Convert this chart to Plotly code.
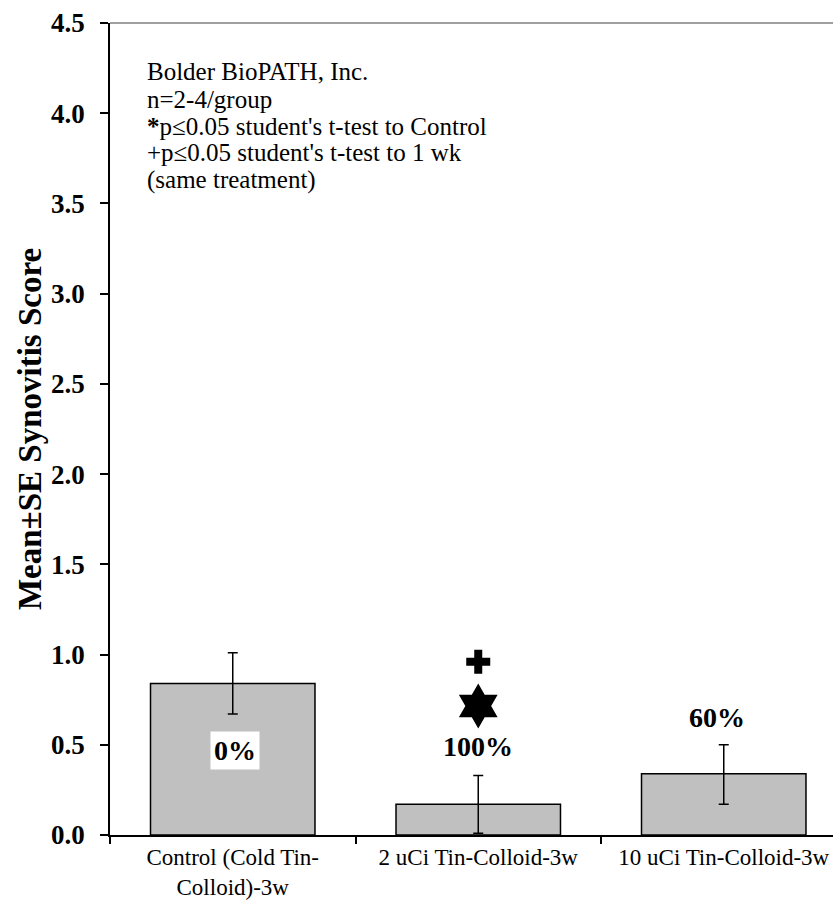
import plotly.graph_objects as go

# Synovitis scores per treatment group
categories = ["Control (Cold Tin-<br>Colloid)-3w", "2 uCi Tin-Colloid-3w", "10 uCi Tin-Colloid-3w"]
means = [0.84, 0.17, 0.34]
se_plus = [0.17, 0.16, 0.16]
se_minus = [0.17, 0.16, 0.17]
pct_labels = ["0%", "100%", "60%"]
pct_y = [0.47, 0.49, 0.65]
pct_xshift = [2, 0, -7]
y_ticks = [0.0, 0.5, 1.0, 1.5, 2.0, 2.5, 3.0, 3.5, 4.0, 4.5]

# significance markers over the 2 uCi group
sig_cat = [categories[1], categories[1]]
sig_y = [0.96, 0.715]
sig_symbols = ["cross", "hexagram"]

info_lines = [
    "Bolder BioPATH, Inc.",
    "n=2-4/group",
    "<b>*</b>p≤0.05 student's t-test to Control",
    "+p≤0.05 student's t-test to 1 wk",
    "(same treatment)",
]

serif = "Liberation Serif"
W, H = 833, 901
M_L, M_R, M_T, M_B = 110, 0, 23, 66
plot_h = H - M_T - M_B

fig = go.Figure()
fig.add_trace(go.Bar(
    x=categories, y=means, width=0.67,
    marker=dict(color="#c0c0c0", line=dict(color="#000000", width=1.5)),
    error_y=dict(type="data", array=se_plus, arrayminus=se_minus, symmetric=False,
                 color="#000000", thickness=1.5, width=5),
    showlegend=False,
))
fig.add_trace(go.Scatter(
    x=sig_cat, y=sig_y, mode="markers",
    marker=dict(symbol=sig_symbols, size=[20, 34], color="#000000", opacity=1,
                line=dict(width=0, color="#000000")),
    showlegend=False,
))

for i, (cat, lab, yy, dx) in enumerate(zip(categories, pct_labels, pct_y, pct_xshift)):
    fig.add_annotation(
        x=cat, y=yy, text=f"<b>{lab}</b>", showarrow=False, xshift=dx,
        font=dict(family=serif, size=28, color="#000000"),
        bgcolor="#ffffff" if i == 0 else "rgba(0,0,0,0)",
        borderpad=3,
    )

# info block, one line per annotation for tight line spacing
line_step = 27
first_line = 72
for k, line in enumerate(info_lines):
    ypix = first_line + k * line_step
    fig.add_annotation(
        xref="paper", yref="paper", x=0.048, y=1 - (ypix - M_T) / plot_h,
        xanchor="left", yanchor="middle",
        text=line, showarrow=False, align="left",
        font=dict(family=serif, size=25, color="#000000"),
    )

# top frame line
fig.add_shape(type="line", xref="paper", yref="paper", x0=0, x1=1, y0=1, y1=1,
              line=dict(color="#808080", width=1.5))

fig.update_layout(
    width=W, height=H,
    margin=dict(l=M_L, r=M_R, t=M_T, b=M_B),
    plot_bgcolor="#ffffff", paper_bgcolor="#ffffff",
    font=dict(family=serif, color="#000000"),
    xaxis=dict(
        range=[-0.5, 2.445], showline=True, linecolor="#000000", linewidth=2,
        ticks="outside", tickson="boundaries", ticklen=7, tickcolor="#000000", tickwidth=1.5,
        tickfont=dict(family=serif, size=23, color="#000000"),
        showgrid=False, zeroline=False,
    ),
    yaxis=dict(
        range=[0, 4.5], tickvals=y_ticks, ticktext=[f"<b>{v:.1f}</b>" for v in y_ticks],
        showline=True, linecolor="#000000", linewidth=1.5,
        ticks="outside", ticklen=8, tickcolor="#000000", tickwidth=1.5,
        ticklabelstandoff=10,
        tickfont=dict(family=serif, size=27, color="#000000"),
        showgrid=False, zeroline=False,
        title=dict(text="<b>Mean±SE Synovitis Score</b>", font=dict(family=serif, size=33, color="#000000"),
                   standoff=0),
    ),
)

fig.write_html("out.html")
